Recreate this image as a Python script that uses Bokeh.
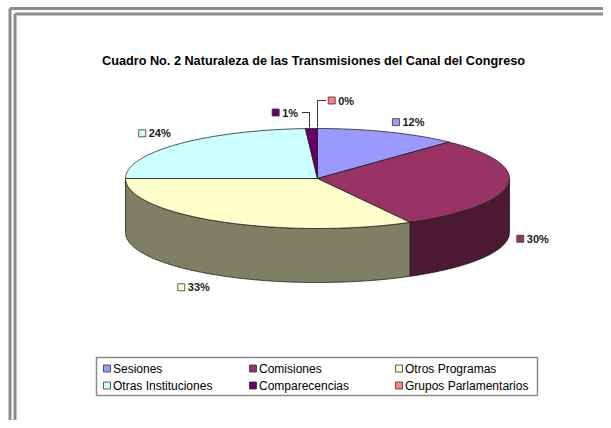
import numpy as np
from bokeh.plotting import figure
from bokeh.models import Range1d, ColumnDataSource
from bokeh.core.properties import value
from bokeh.embed import file_html
from bokeh.resources import INLINE

# ---------------- data ----------------
title = "Cuadro No. 2 Naturaleza de las Transmisiones del Canal del Congreso"
categories = ["Sesiones", "Comisiones", "Otros Programas",
              "Otras Instituciones", "Comparecencias", "Grupos Parlamentarios"]
values = [12, 30, 33, 24, 1, 0]
colors = ["#9999FF", "#993366", "#FFFFCC", "#CCFFFF", "#660066", "#FF8080"]

# ---------------- layout / style ----------------
W, H = 603, 420
FONT = "Liberation Sans"
cx, cy, a, b, depth = 317.0, 178.0, 192.0, 50.0, 54.0
edge_col = "#1e1e1e"

p = figure(width=W, height=H, x_range=Range1d(0, W), y_range=Range1d(H, 0),
           x_axis_type=None, y_axis_type=None, toolbar_location=None,
           output_backend="svg", min_border=0, outline_line_color=None)
p.background_fill_color = "white"
p.border_fill_color = "white"

# frame (double gray border)
fx = [[9.5, 640], [9.5, 9.5], [14.5, 640], [14.5, 14.5]]
fy = [[8.0, 8.0], [8.0, 440], [13.5, 13.5], [13.5, 440]]
p.multi_line(xs=fx, ys=fy, line_color="#8c8c8c", line_width=3)

# title
p.text(x=[313], y=[60], text=[title], text_font=value(FONT), text_font_size="12.7px",
       text_font_style="bold", text_align="center", text_baseline="middle", text_color="#000000")


def shade(hexc, f=0.5):
    h = hexc.lstrip("#")
    r, g, bb = (int(h[i:i + 2], 16) for i in (0, 2, 4))
    return "#%02x%02x%02x" % (int(r * f), int(g * f), int(bb * f))


def ell(theta_deg, dy=0.0):
    t = np.radians(theta_deg)
    return cx + a * np.cos(t), cy - b * np.sin(t) + dy


total = float(sum(values))
cum = np.concatenate([[0.0], np.cumsum(values)]) / total
starts = 90 - 360 * cum[:-1]
ends = 90 - 360 * cum[1:]

# ---- side faces (front half only) ----
sxs, sys_, scol = [], [], []
for s, e, c in zip(starts, ends, colors):
    hi, lo = min(s, 0.0), max(e, -180.0)
    if hi - lo <= 0:
        continue
    th = np.linspace(hi, lo, max(4, int((hi - lo) * 2)))
    tx, ty = ell(th)
    bx, by = ell(th[::-1], depth)
    sxs.append(list(tx) + list(bx))
    sys_.append(list(ty) + list(by))
    scol.append(shade(c))
p.patches(xs="xs", ys="ys", fill_color="c", line_color=edge_col, line_width=0.8,
          source=ColumnDataSource(dict(xs=sxs, ys=sys_, c=scol)))

# ---- top faces ----
txs, tys, tcol = [], [], []
for s, e, c in zip(starts, ends, colors):
    if s - e <= 0:
        continue
    th = np.linspace(s, e, max(4, int((s - e) * 2)))
    ex, ey = ell(th)
    txs.append([cx] + list(ex))
    tys.append([cy] + list(ey))
    tcol.append(c)
p.patches(xs="xs", ys="ys", fill_color="c", line_color=edge_col, line_width=0.8,
          source=ColumnDataSource(dict(xs=txs, ys=tys, c=tcol)))

# ---- data labels ----
LBL_SIZE = 11.0
key = 7.0
gap = 3.0
char_w = {"%": 10.2}
nudges = [(11, 5), (-1, -2), (-12, -2), (-3, 0), None, None]
leaders = [None, None, None, None, (-26, -16), (24, -28)]

kx, ky, kc = [], [], []
lx, ly, lt = [], [], []
ldx, ldy = [], []
for i, (s, e, v, c) in enumerate(zip(starts, ends, values, colors)):
    txt = "%d%%" % round(v / total * 100)
    tw = sum(char_w.get(ch, 6.4) for ch in txt)
    w = key + gap + tw
    mid = (s + e) / 2
    t = np.radians(mid)
    if leaders[i] is None:
        px = cx + (a + 10) * np.cos(t)
        py = cy - (b + 10) * np.sin(t) + (depth if np.sin(t) < 0 else 0)
        ccx = px + np.cos(t) * w / 2 + nudges[i][0]
        ccy = py - np.sin(t) * 6 + nudges[i][1]
        left = ccx - w / 2
    else:
        ex, ey = ell(mid)
        ccx = ex + leaders[i][0]
        ccy = ey + leaders[i][1]
        left = ccx - w / 2
        if leaders[i][0] < 0:
            ldx.append([left + w + 3, ex - 2, ex - 2])
            ldy.append([ccy, ccy, ey - 1])
        else:
            ldx.append([ex, ex, left - 2])
            ldy.append([ey - 1, ccy, ccy])
    kx.append(left + key / 2)
    ky.append(ccy)
    kc.append(c)
    lx.append(left + key + gap)
    ly.append(ccy)
    lt.append(txt)

p.multi_line(xs=ldx, ys=ldy, line_color="#333333", line_width=1)
p.rect(x=kx, y=ky, width=key, height=key, fill_color=kc, line_color="#333333", line_width=0.8)
p.text(x=lx, y=ly, text=lt, text_font=value(FONT), text_font_size="%.1fpx" % LBL_SIZE,
       text_font_style="bold", text_align="left", text_baseline="middle", text_color="#1a1a1a")

# ---- legend ----
leg_l, leg_r, leg_t, leg_b = 96, 537, 357, 395
p.quad(left=[leg_l], right=[leg_r], top=[leg_t], bottom=[leg_b], fill_color="white",
       line_color="#8c8c8c", line_width=1.5)
col_w, row_h = 146.0, 17.0
gkx, gky, gtx = [], [], []
for i, name in enumerate(categories):
    col, row = i % 3, i // 3
    k_left = leg_l + 7 + col * col_w
    yy = leg_t + 11 + row * row_h
    gkx.append(k_left + key / 2)
    gky.append(yy)
    gtx.append(k_left + key + 2.5)
p.rect(x=gkx, y=gky, width=key, height=key, fill_color=colors, line_color="#333333", line_width=0.8)
p.text(x=gtx, y=gky, text=categories, text_font=value(FONT), text_font_size="12px",
       text_align="left", text_baseline="middle", text_color="#000000")

open("out.html", "w").write(file_html(p, INLINE))
